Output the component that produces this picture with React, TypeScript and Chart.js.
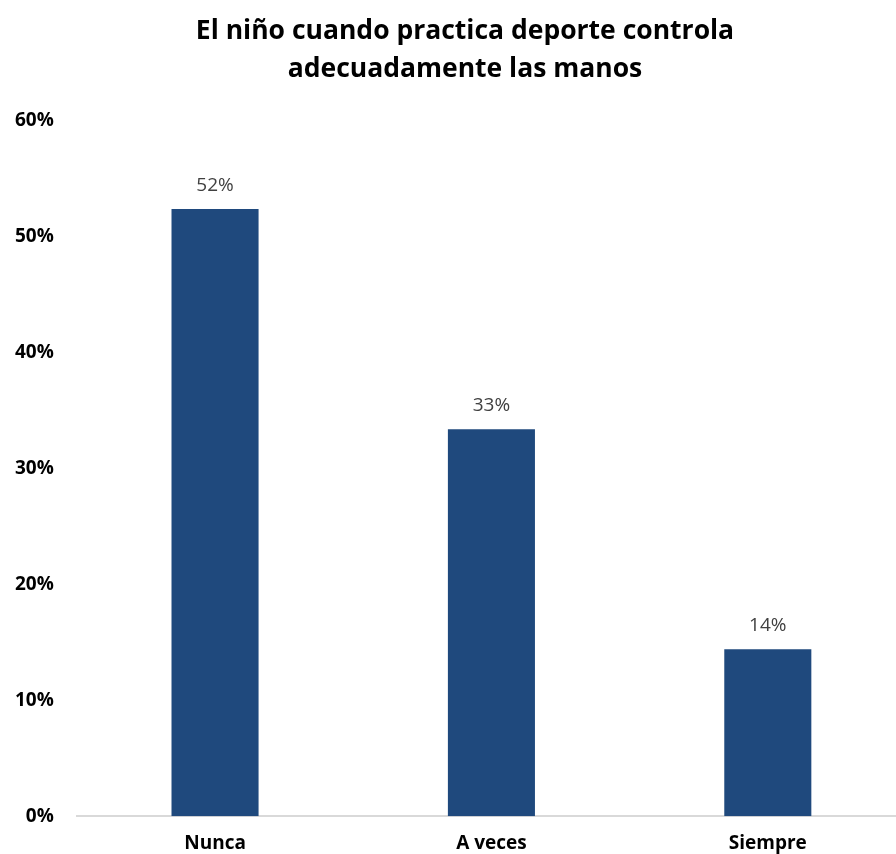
import React, { useEffect, useRef } from "react";
import { Chart, registerables } from "chart.js";

Chart.register(...registerables);

const titleLines = ["El niño cuando practica deporte controla", "adecuadamente las manos"];
const categories = ["Nunca", "A veces", "Siempre"];
const values = [0.524, 0.334, 0.144];
const yTicks = [0, 0.1, 0.2, 0.3, 0.4, 0.5, 0.6];

const FONT = "'Open Sans', 'Noto Sans', sans-serif";

export default function App() {
  const ref = useRef<HTMLCanvasElement | null>(null);
  useEffect(() => {
    document.body.style.margin = "0";
    const canvas = ref.current!;
    const labelPlugin = {
      id: "labels",
      afterDatasetsDraw(chart: any) {
        const ctx = chart.ctx;
        const meta = chart.getDatasetMeta(0);
        ctx.save();
        ctx.fillStyle = "#404040";
        ctx.font = `19px ${FONT}`;
        ctx.textAlign = "center";
        ctx.textBaseline = "alphabetic";
        meta.data.forEach((bar: any, i: number) => {
          ctx.fillText(Math.round(values[i] * 100) + "%", bar.x, bar.y - 18);
        });
        ctx.restore();
      },
      afterDraw(chart: any) {
        const ctx = chart.ctx;
        ctx.save();
        ctx.fillStyle = "#000000";
        ctx.font = `bold 26.5px ${FONT}`;
        ctx.textAlign = "center";
        ctx.textBaseline = "middle";
        titleLines.forEach((t, i) => ctx.fillText(t, 473, 31 + i * 38));
        ctx.restore();
      },
    };
    const chart = new Chart(canvas, {
      type: "bar",
      data: {
        labels: categories,
        datasets: [
          {
            data: values,
            backgroundColor: "#1F497D",
            borderWidth: 0,
            barPercentage: 0.315,
            categoryPercentage: 1,
          },
        ],
      },
      options: {
        responsive: false,
        animation: false,
        layout: { padding: { top: 121, right: 0, left: 0, bottom: 0 } },
        plugins: { legend: { display: false }, title: { display: false }, tooltip: { enabled: false } },
        scales: {
          x: {
            grid: { display: false, drawTicks: false },
            border: { display: true, color: "#D9D9D9", width: 2 },
            ticks: { color: "#000", font: { family: FONT, size: 19, weight: "bold" }, padding: 16 },
          },
          y: {
            min: 0,
            max: 0.6,
            afterBuildTicks(scale: any) {
              scale.ticks = yTicks.map((v) => ({ value: v }));
            },
            grid: { display: false, drawTicks: false },
            border: { display: false },
            ticks: {
              color: "#000",
              font: { family: FONT, size: 19, weight: "bold" },
              padding: 23,
              callback: (v: any) => Math.round(Number(v) * 100) + "%",
            },
          },
        },
      },
      plugins: [labelPlugin],
    });
    return () => chart.destroy();
  }, []);
  return (
    <div style={{ width: 896, height: 854, overflow: "hidden", background: "#fff" }}>
      <canvas ref={ref} width={914} height={871} style={{ display: "block", marginLeft: -8 }} />
    </div>
  );
}
